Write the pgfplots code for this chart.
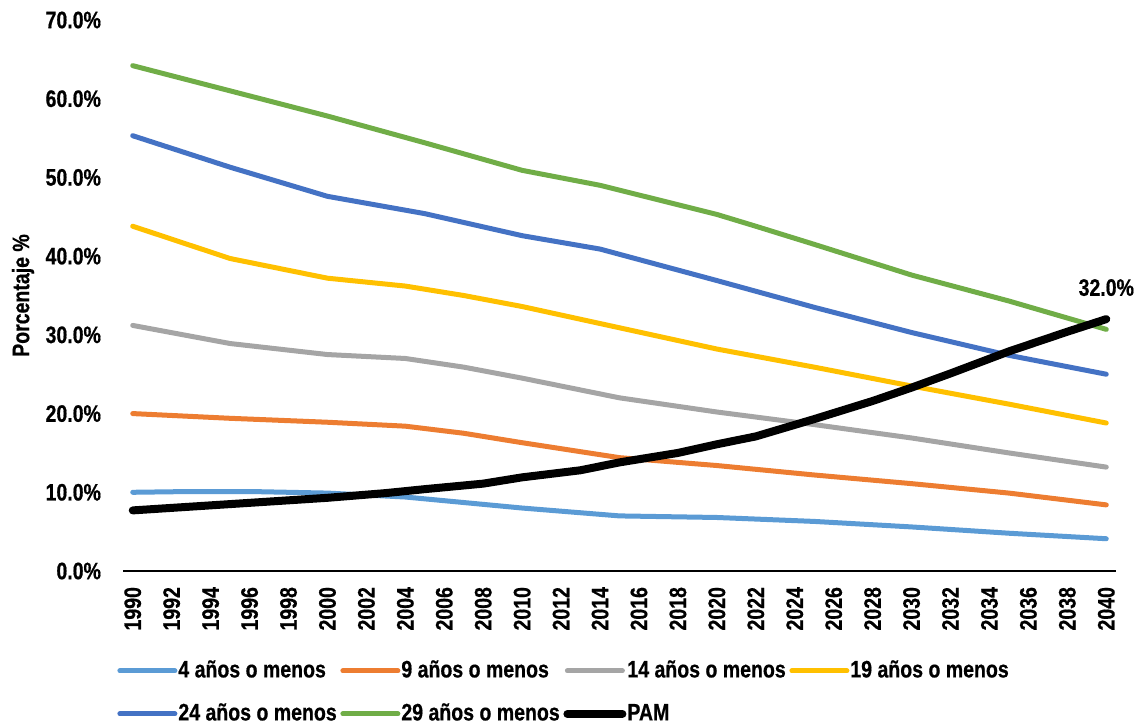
\documentclass[border=0pt]{standalone}
\usepackage{pgfplots}
\pgfplotsset{compat=1.18}
\usepackage{fontspec}
\setmainfont{Liberation Sans}[FakeStretch=0.82, BoldFeatures={FakeBold=0.6}]
\definecolor{c4}{HTML}{5B9BD5}
\definecolor{c9}{HTML}{ED7D31}
\definecolor{c14}{HTML}{A5A5A5}
\definecolor{c19}{HTML}{FFC000}
\definecolor{c24}{HTML}{4472C4}
\definecolor{c29}{HTML}{70AD47}
\newcommand{\ff}{\fontsize{11.9}{14}\selectfont\bfseries}
\newcommand{\lb}[1]{\makebox[81pt][l]{#1}}
\begin{document}
\begin{tikzpicture}
\useasboundingbox (0,0) rectangle (569pt,362.5pt);
\begin{axis}[
  at={(61.5pt,77pt)}, anchor=south west,
  scale only axis, width=496.5pt, height=275.5pt,
  xmin=1989.5, xmax=2040.5, ymin=0, ymax=70,
  clip=false,
  axis y line*=left, axis x line*=bottom,
  y axis line style={draw=none},
  x axis line style={line width=0.8pt, black},
  xtick={1990,1992,...,2040},
  xticklabels={1990,1992,1994,1996,1998,2000,2002,2004,2006,2008,2010,2012,2014,2016,2018,2020,2022,2024,2026,2028,2030,2032,2034,2036,2038,2040},
  ytick={0,10,...,70},
  yticklabels={0.0\%,10.0\%,20.0\%,30.0\%,40.0\%,50.0\%,60.0\%,70.0\%},
  tick style={draw=none},
  xticklabel style={font=\ff, rotate=90, anchor=east, xshift=-4.5pt},
  yticklabel style={font=\ff, xshift=-7.5pt},
  ylabel={Porcentaje \%},
  every axis y label/.style={at={(axis description cs:-0.1007,0.5)}, rotate=90, anchor=center, font=\ff},
  legend columns=4,
  legend cell align=left,
  legend style={draw=none, at={(axis description cs:0,0)}, anchor=north west, xshift=-3pt, yshift=-44pt,
    font=\ff, column sep=0pt, row sep=10pt, inner sep=0pt,
    nodes={inner sep=0pt, text height=9pt, text depth=2.5pt},
    /tikz/every odd column/.append style={column sep=0.5pt}},
  legend image code/.code={\draw[#1, line cap=round] (0pt,0pt) -- (27.5pt,0pt);},
  every axis plot/.append style={line join=round, line cap=round},
]
\addplot[c4, line width=2.5pt] coordinates {(1990,10.0)(1993,10.1)(1996,10.1)(2000,9.9)(2004,9.4)(2007,8.7)(2010,8.0)(2015,7.0)(2020,6.8)(2025,6.3)(2030,5.6)(2035,4.8)(2040,4.1)};
\addlegendentry{\lb{4 años o menos}}
\addplot[c9, line width=2.5pt] coordinates {(1990,20.0)(1995,19.4)(2000,18.9)(2004,18.4)(2007,17.5)(2010,16.3)(2015,14.4)(2020,13.4)(2025,12.2)(2030,11.1)(2035,9.9)(2040,8.4)};
\addlegendentry{\lb{9 años o menos}}
\addplot[c14, line width=2.5pt] coordinates {(1990,31.2)(1995,28.9)(2000,27.5)(2004,27.0)(2007,25.9)(2010,24.5)(2015,22.0)(2020,20.2)(2025,18.6)(2030,16.9)(2035,15.0)(2040,13.2)};
\addlegendentry{\lb{14 años o menos}}
\addplot[c19, line width=2.5pt] coordinates {(1990,43.8)(1995,39.7)(2000,37.2)(2004,36.2)(2007,35.0)(2010,33.6)(2015,30.9)(2020,28.2)(2025,25.9)(2030,23.5)(2035,21.2)(2040,18.8)};
\addlegendentry{\lb{19 años o menos}}
\addplot[c24, line width=2.5pt] coordinates {(1990,55.3)(1995,51.3)(2000,47.6)(2005,45.4)(2010,42.6)(2014,40.9)(2020,36.9)(2025,33.5)(2030,30.3)(2035,27.4)(2040,25.0)};
\addlegendentry{\lb{24 años o menos}}
\addplot[c29, line width=2.5pt] coordinates {(1990,64.2)(1995,61.0)(2000,57.8)(2005,54.4)(2010,50.9)(2014,49.0)(2020,45.3)(2022,43.8)(2025,41.5)(2030,37.6)(2035,34.3)(2040,30.7)};
\addlegendentry{\lb{29 años o menos}}
\addplot[black, line width=4pt] coordinates {(1990,7.7)(1995,8.5)(2000,9.3)(2003,9.9)(2005,10.4)(2008,11.1)(2010,11.9)(2013,12.8)(2015,13.8)(2018,15.0)(2020,16.1)(2022,17.1)(2025,19.3)(2028,21.6)(2030,23.3)(2032,25.1)(2035,27.9)(2038,30.4)(2040,32.0)};
\addlegendentry{\lb{PAM}}
\addplot[forget plot, draw=none, mark=none, nodes near coords={32.0\%},
  nodes near coords style={anchor=south, yshift=8pt, font=\ff}] coordinates {(2040,32.0)};
\end{axis}
\end{tikzpicture}
\end{document}
